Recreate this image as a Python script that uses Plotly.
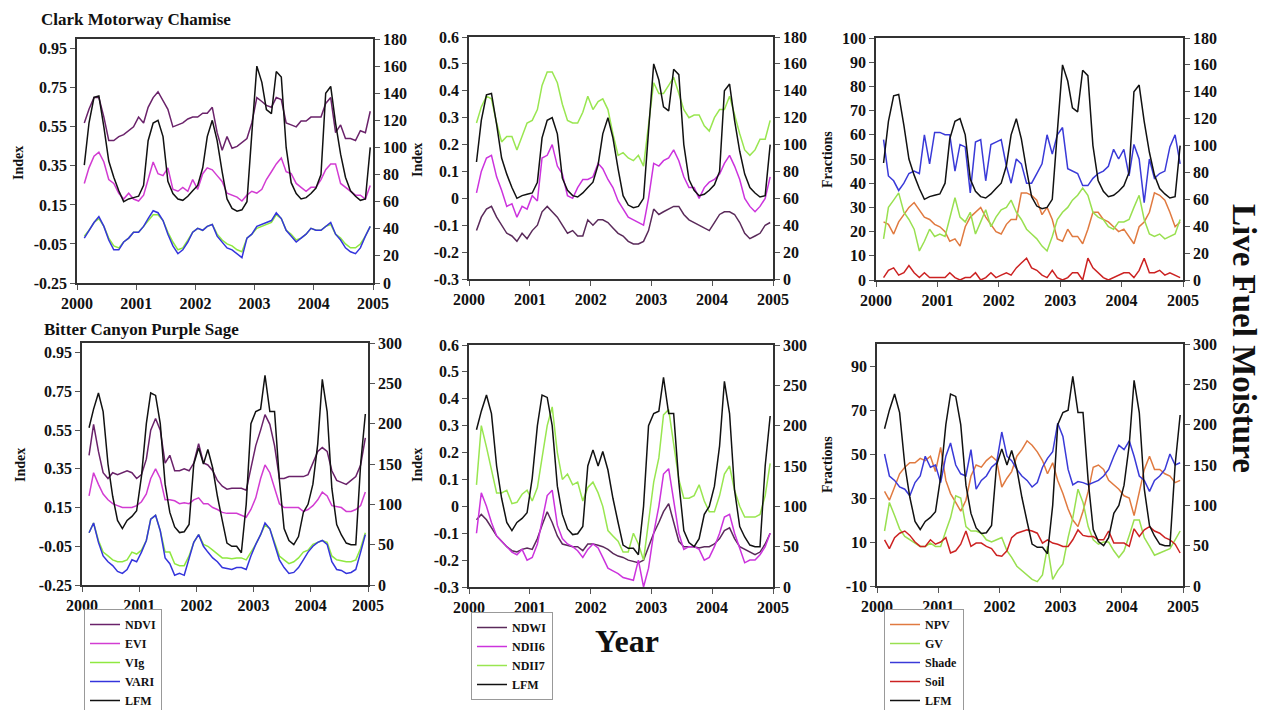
import plotly.graph_objects as go

# Monthly samples, Feb 2000 .. Dec 2004
DATES = [f"{y}-{m:02d}-15" for y in range(2000, 2005) for m in range(1, 13)][1:]

YEAR_TICKS = ["2000", "2001", "2002", "2003", "2004", "2005"]

# ---------------- Clark Motorway Chamise (top row) ----------------
LFM_TOP = [87, 118, 137, 138, 115, 90, 78, 68, 60, 62, 63,
           64, 72, 105, 118, 120, 108, 75, 66, 62, 61, 64, 68,
           72, 85, 108, 120, 105, 82, 62, 55, 53, 54, 60, 110,
           160, 148, 128, 125, 156, 152, 100, 74, 66, 62, 63, 66,
           70, 80, 140, 145, 118, 95, 78, 68, 64, 61, 62, 100]
NDVI_TOP = [.57, .64, .70, .70, .60, .48, .48, .50, .51, .53, .55,
            .60, .57, .65, .70, .73, .68, .64, .55, .56, .57, .59, .60,
            .60, .62, .62, .65, .52, .43, .50, .44, .45, .47, .49, .57,
            .70, .68, .66, .65, .70, .69, .57, .56, .55, .58, .58, .60,
            .60, .60, .67, .70, .52, .56, .49, .49, .48, .53, .52, .63]
EVI_TOP = [.26, .34, .40, .42, .37, .28, .26, .21, .18, .21, .18,
           .17, .20, .28, .37, .31, .30, .34, .23, .22, .24, .22, .28,
           .23, .31, .34, .33, .30, .27, .21, .20, .19, .17, .20, .22,
           .21, .23, .28, .32, .36, .39, .32, .31, .26, .24, .22, .24,
           .24, .28, .33, .36, .36, .26, .24, .22, .20, .20, .18, .25]
VIG_TOP = [-.01, .02, .06, .08, .04, -.02, -.06, -.07, -.04, -.02, .01,
           .01, .04, .07, .10, .10, .07, .01, -.04, -.08, -.07, -.03, .01,
           .03, .02, .04, .05, .00, -.03, -.05, -.06, -.08, -.09, -.02, .00,
           .03, .04, .05, .06, .10, .08, .02, .00, -.03, -.02, .00, .03,
           .02, .02, .04, .05, .00, -.02, -.05, -.07, -.07, -.05, -.01, .04]
VARI_TOP = [-.02, .02, .06, .09, .04, -.03, -.08, -.08, -.04, -.02, .01,
            .01, .04, .08, .12, .11, .07, .00, -.06, -.10, -.08, -.04, .01,
            .03, .02, .04, .05, -.01, -.04, -.07, -.08, -.10, -.12, -.02, .00,
            .04, .05, .06, .07, .11, .08, .02, -.01, -.04, -.02, .00, .03,
            .02, .02, .04, .06, .00, -.03, -.07, -.09, -.10, -.07, -.01, .04]
NDWI_TOP = [-.12, -.07, -.04, -.03, -.07, -.10, -.13, -.14, -.16, -.13, -.15,
            -.12, -.10, -.05, -.03, -.05, -.07, -.10, -.13, -.12, -.14, -.14, -.08,
            -.10, -.08, -.08, -.09, -.11, -.13, -.14, -.16, -.17, -.17, -.16, -.12,
            -.04, -.06, -.05, -.04, -.03, -.03, -.06, -.08, -.09, -.10, -.11, -.12,
            -.09, -.06, -.05, -.05, -.06, -.09, -.13, -.15, -.14, -.13, -.10, -.09]
NDII6_TOP = [.02, .10, .15, .16, .08, .03, -.03, -.02, -.07, -.03, -.04,
             .01, -.01, .15, .16, .20, .12, .09, .01, .00, .04, .07, .07,
             .08, .13, .11, .07, .04, -.01, -.04, -.07, -.08, -.09, -.10, .00,
             .13, .12, .14, .15, .18, .14, .08, .04, .04, .00, .04, .06,
             .07, .09, .13, .16, .12, .07, .00, -.03, -.05, -.03, .00, .08]
NDII7_TOP = [.28, .34, .38, .37, .28, .21, .23, .23, .18, .23, .28,
             .29, .33, .42, .47, .47, .43, .35, .29, .28, .28, .32, .38,
             .33, .36, .37, .33, .24, .16, .17, .15, .14, .16, .12, .28,
             .43, .39, .39, .42, .45, .39, .33, .30, .31, .31, .27, .25,
             .30, .33, .33, .38, .31, .24, .18, .16, .18, .22, .22, .29]
NPV_TOP = [24, 23, 19, 24, 27, 30, 32, 29, 26, 25, 23,
           22, 20, 16, 17, 14, 22, 26, 28, 30, 26, 23, 20,
           19, 23, 25, 25, 36, 36, 35, 33, 27, 30, 25, 17,
           16, 21, 18, 18, 15, 21, 28, 28, 25, 24, 22, 20,
           21, 18, 15, 22, 24, 28, 36, 35, 33, 28, 22, 24]
GV_TOP = [17, 30, 33, 36, 28, 25, 21, 12, 16, 21, 18,
          19, 18, 26, 34, 26, 24, 28, 19, 24, 29, 22, 26,
          29, 30, 33, 28, 25, 21, 19, 17, 14, 12, 18, 25,
          28, 30, 33, 35, 38, 35, 28, 26, 25, 22, 21, 24,
          24, 25, 30, 35, 25, 19, 18, 19, 17, 18, 19, 25]
SHADE_TOP = [58, 43, 41, 37, 40, 44, 45, 44, 60, 48, 61,
             61, 60, 60, 45, 56, 55, 36, 57, 58, 41, 56, 57,
             58, 47, 40, 50, 48, 40, 40, 44, 48, 60, 52, 60,
             63, 46, 45, 44, 39, 39, 42, 44, 45, 47, 54, 50,
             54, 43, 56, 50, 32, 50, 42, 44, 45, 55, 60, 48]
SOIL_TOP = [1, 4, 5, 2, 3, 6, 3, 1, 3, 1, 1,
            1, 1, 3, 1, 0, 1, 1, 3, 0, 1, 3, 1,
            2, 3, 2, 5, 7, 9, 5, 4, 2, 1, 4, 1,
            0, 1, 3, 3, 0, 9, 5, 3, 1, 0, 1, 2,
            3, 3, 1, 4, 9, 3, 3, 4, 2, 3, 2, 1]

# ---------------- Bitter Canyon Purple Sage (bottom row) ----------------
LFM_BOT = [195, 218, 238, 215, 150, 110, 80, 70, 80, 85, 92,
           135, 200, 238, 235, 200, 125, 90, 72, 65, 66, 75, 150,
           170, 150, 168, 145, 110, 80, 52, 48, 48, 40, 100, 200,
           215, 218, 260, 215, 215, 130, 70, 55, 50, 60, 90, 100,
           125, 175, 255, 215, 120, 75, 62, 52, 50, 50, 150, 212]
NDVI_BOT = [.42, .58, .44, .33, .30, .33, .32, .33, .34, .33, .30,
            .32, .40, .55, .61, .55, .38, .42, .34, .34, .35, .34, .38,
            .48, .38, .37, .34, .29, .26, .245, .25, .25, .25, .24, .36,
            .47, .55, .63, .58, .47, .30, .30, .31, .31, .31, .31, .32,
            .38, .44, .46, .44, .34, .29, .28, .27, .29, .31, .37, .51]
EVI_BOT = [.21, .33, .27, .22, .19, .17, .16, .15, .15, .15, .16,
           .18, .22, .30, .35, .30, .19, .19, .185, .17, .175, .17, .19,
           .20, .17, .17, .15, .14, .125, .12, .12, .12, .11, .10, .14,
           .20, .30, .37, .33, .25, .17, .15, .15, .15, .15, .13, .14,
           .16, .19, .23, .21, .16, .155, .15, .13, .13, .14, .16, .23]
VIG_BOT = [.02, .07, -.02, -.08, -.10, -.12, -.13, -.13, -.12, -.08, -.09,
           -.07, -.02, .09, .11, .03, -.08, -.08, -.14, -.15, -.15, -.10, -.03,
           .01, -.04, -.05, -.07, -.09, -.11, -.11, -.115, -.11, -.11, -.12, -.08,
           -.04, .01, .06, .04, -.03, -.10, -.12, -.14, -.13, -.11, -.08, -.07,
           -.04, -.03, -.02, -.03, -.10, -.12, -.125, -.13, -.13, -.12, -.06, .02]
VARI_BOT = [.02, .07, -.03, -.10, -.13, -.15, -.18, -.19, -.17, -.12, -.13,
            -.08, -.02, .09, .11, .03, -.11, -.14, -.20, -.19, -.20, -.12, -.03,
            .01, -.05, -.08, -.11, -.13, -.16, -.165, -.17, -.16, -.16, -.17, -.10,
            -.04, .01, .07, .04, -.04, -.12, -.16, -.19, -.185, -.16, -.12, -.08,
            -.05, -.03, -.02, -.04, -.13, -.17, -.175, -.19, -.185, -.17, -.08, .01]
NDWI_BOT = [-.05, -.03, -.05, -.08, -.11, -.13, -.15, -.165, -.17, -.16, -.155,
            -.16, -.12, -.07, -.02, -.06, -.11, -.14, -.145, -.15, -.15, -.165, -.14,
            -.14, -.145, -.15, -.16, -.175, -.185, -.19, -.20, -.205, -.21, -.20, -.15,
            -.10, -.06, -.02, .01, -.06, -.13, -.15, -.15, -.15, -.155, -.15, -.15,
            -.14, -.12, -.09, -.08, -.12, -.15, -.16, -.17, -.18, -.17, -.14, -.10]
NDII6_BOT = [-.10, .05, .00, -.06, -.11, -.13, -.15, -.17, -.18, -.16, -.20,
             -.19, -.14, -.06, .04, .06, -.07, -.12, -.14, -.15, -.165, -.19, -.16,
             -.14, -.155, -.19, -.23, -.24, -.25, -.265, -.27, -.275, -.20, -.30, -.23,
             -.10, .00, .12, .14, .02, -.10, -.16, -.15, -.15, -.16, -.20, -.19,
             -.15, -.10, -.04, -.03, -.10, -.16, -.21, -.20, -.20, -.18, -.15, -.10]
NDII7_BOT = [.08, .30, .22, .14, .05, .05, .06, .01, .015, .045, .06,
             .02, .07, .18, .30, .37, .20, .10, .12, .08, .09, .02, .07,
             .09, .05, .00, -.09, -.11, -.13, -.17, -.17, -.10, -.14, -.20, -.05,
             .09, .18, .34, .36, .24, .10, .03, .03, .04, .08, .02, -.02,
             -.02, .04, .12, .15, .06, .00, -.04, -.04, -.04, -.03, .04, .16]
NPV_BOT = [33, 29, 35, 41, 44, 46, 46, 48, 47, 49, 42,
           53, 38, 32, 28, 24, 29, 40, 45, 44, 47, 49, 47,
           35, 39, 42, 49, 52, 56, 54, 51, 47, 41, 46, 38,
           32, 25, 20, 17, 24, 33, 44, 45, 43, 38, 36, 34,
           31, 30, 22, 33, 43, 49, 43, 43, 41, 40, 37, 38]
GV_BOT = [15, 28, 22, 16, 12.5, 11, 9.5, 8, 8, 9.5, 8,
          8, 15, 21, 31, 30, 17, 15, 15, 14, 11, 10, 11,
          12, 6, 3, -1, -3, -5, -7, -8, -5, 8, -7, -3,
          0, 12, 21, 34, 28, 17, 11, 9, 10, 10, 6, 3,
          6, 13, 20, 20, 12, 8, 4, 5, 6, 7, 11, 15]
SHADE_BOT = [50, 40, 38, 35, 34, 31, 37, 40, 49, 44, 45,
             37, 49, 55, 45, 41, 40, 52, 34, 38, 40, 44, 46,
             60, 49, 47, 43, 40, 38, 35, 37, 44, 48, 51, 64,
             58, 43, 36, 37.5, 37, 36, 37, 38, 40, 43, 49, 54,
             52, 56, 49, 40, 38, 33, 38, 40, 43, 50, 45, 46]
SOIL_BOT = [11, 7, 12, 14, 15, 13, 10, 8, 8, 11, 9,
            10, 12, 5, 6, 9, 15, 8, 9.5, 9.5, 8, 7, 4,
            3.5, 6, 12, 14, 14.8, 15.5, 15, 14, 9.5, 11, 9.5, 9,
            8, 8, 11, 15.5, 13, 12.5, 12.5, 11, 11, 15, 9.5, 9.5,
            9.5, 8, 16, 12.5, 15.5, 17, 15, 14, 12, 11, 9, 5]

# ---------------- styling ----------------
FONT = "Liberation Serif"
C_NDVI, C_EVI, C_VIG, C_VARI, C_LFM = "#6a226a", "#d23cd2", "#8fe840", "#3434dc", "#111111"
C_NDWI, C_NDII6, C_NDII7 = "#5a2a5a", "#cc33dd", "#99e650"
C_NPV, C_GV, C_SHADE, C_SOIL = "#e07a40", "#99e050", "#3a3ad8", "#cc2222"

IDX_TICKS = [-0.25, -0.05, 0.15, 0.35, 0.55, 0.75, 0.95]
IDX_TEXT = ["-0.25", "-0.05", "0.15", "0.35", "0.55", "0.75", "0.95"]
WI_TICKS = [-0.3, -0.2, -0.1, 0, 0.1, 0.2, 0.3, 0.4, 0.5, 0.6]
WI_TEXT = ["-0.3", "-0.2", "-0.1", "0", "0.1", "0.2", "0.3", "0.4", "0.5", "0.6"]

# panel layout: (x px, y px, left range, left ticks, left text, right range, right dtick)
PANELS = [
    ([77, 373], [39, 283], [-0.25, 1.0], IDX_TICKS, IDX_TEXT, [0, 180], 20),
    ([469, 773], [37, 279], [-0.3, 0.6], WI_TICKS, WI_TEXT, [0, 180], 20),
    ([876, 1183], [38, 280], [0, 100], list(range(0, 101, 10)), [str(v) for v in range(0, 101, 10)], [0, 180], 20),
    ([82, 368], [343, 585], [-0.25, 1.0], IDX_TICKS, IDX_TEXT, [0, 300], 50),
    ([469, 773], [345, 587], [-0.3, 0.6], WI_TICKS, WI_TEXT, [0, 300], 50),
    ([877, 1183], [344, 586], [-10, 100], list(range(-10, 91, 20)), [str(v) for v in range(-10, 91, 20)], [0, 300], 50),
]
W, H = 1263, 710

SERIES = [
    [("NDVI", NDVI_TOP, C_NDVI), ("EVI", EVI_TOP, C_EVI), ("VIg", VIG_TOP, C_VIG), ("VARI", VARI_TOP, C_VARI)],
    [("NDWI", NDWI_TOP, C_NDWI), ("NDII6", NDII6_TOP, C_NDII6), ("NDII7", NDII7_TOP, C_NDII7)],
    [("NPV", NPV_TOP, C_NPV), ("GV", GV_TOP, C_GV), ("Shade", SHADE_TOP, C_SHADE), ("Soil", SOIL_TOP, C_SOIL)],
    [("NDVI", NDVI_BOT, C_NDVI), ("EVI", EVI_BOT, C_EVI), ("VIg", VIG_BOT, C_VIG), ("VARI", VARI_BOT, C_VARI)],
    [("NDWI", NDWI_BOT, C_NDWI), ("NDII6", NDII6_BOT, C_NDII6), ("NDII7", NDII7_BOT, C_NDII7)],
    [("NPV", NPV_BOT, C_NPV), ("GV", GV_BOT, C_GV), ("Shade", SHADE_BOT, C_SHADE), ("Soil", SOIL_BOT, C_SOIL)],
]
LFMS = [LFM_TOP, LFM_TOP, LFM_TOP, LFM_BOT, LFM_BOT, LFM_BOT]
LEGEND_OF = {3: "legend", 4: "legend2", 5: "legend3"}

fig = go.Figure()
layout = dict(
    width=W, height=H, margin=dict(l=0, r=0, t=0, b=0, autoexpand=False),
    paper_bgcolor="white", plot_bgcolor="white",
    font=dict(family=FONT, size=14, color="#111", weight="bold"),
)

for k, (xd, yd, lr, lt, ltx, rr, rdt) in enumerate(PANELS):
    n = k + 1
    xa = "x" if n == 1 else f"x{n}"
    ya = f"y{2 * n - 1}" if n > 1 else "y"
    yb = f"y{2 * n}"
    leg = LEGEND_OF.get(k)
    for name, vals, col in SERIES[k]:
        fig.add_trace(go.Scatter(x=DATES, y=vals, name=name, mode="lines",
                                 line=dict(color=col, width=1.5), xaxis=xa, yaxis=ya,
                                 showlegend=leg is not None, legend=leg or "legend"))
    fig.add_trace(go.Scatter(x=DATES, y=LFMS[k], name="LFM", mode="lines",
                             line=dict(color=C_LFM, width=1.5), xaxis=xa, yaxis=yb,
                             showlegend=leg is not None, legend=leg or "legend"))

    axline = dict(showline=True, linecolor="#333", linewidth=1.5, showgrid=False, zeroline=False,
                  ticks="outside", ticklen=5, tickcolor="#555", tickwidth=1, automargin=False,
                  tickfont=dict(family=FONT, size=16, color="#111", weight="bold"))
    xkey = "xaxis" if n == 1 else f"xaxis{n}"
    ykey = "yaxis" if n == 1 else f"yaxis{2 * n - 1}"
    y2key = f"yaxis{2 * n}"
    layout[xkey] = dict(axline, domain=[xd[0] / W, xd[1] / W], anchor=ya, mirror=True,
                        type="date", range=["2000-01-01", "2005-01-01"],
                        tickvals=[f"{t}-01-01" for t in YEAR_TICKS], ticktext=YEAR_TICKS)
    layout[ykey] = dict(axline, domain=[1 - yd[1] / H, 1 - yd[0] / H], anchor=xa, mirror=True,
                        range=lr, tickvals=lt, ticktext=ltx)
    layout[y2key] = dict(axline, overlaying=ya, side="right", anchor=xa,
                         range=rr, dtick=rdt, tick0=0)

legend_style = dict(bgcolor="white", bordercolor="#999", borderwidth=1, tracegroupgap=0,
                    font=dict(family=FONT, size=12, color="#111", weight="bold"),
                    xanchor="left", yanchor="top", itemwidth=30)
layout["legend"] = dict(legend_style, x=84 / W, y=1 - 609 / H)
layout["legend2"] = dict(legend_style, x=471 / W, y=1 - 612 / H)
layout["legend3"] = dict(legend_style, x=884 / W, y=1 - 609 / H)


def ann(text, px, py, size, angle=0, xanchor="center"):
    return dict(text=text, x=px / W, y=1 - py / H, xref="paper", yref="paper",
                showarrow=False, textangle=angle, xanchor=xanchor, yanchor="middle",
                font=dict(family=FONT, size=size, color="#111", weight="bold"))


layout["annotations"] = [
    ann("Clark Motorway Chamise", 39, 20, 17, xanchor="left"),
    ann("Bitter Canyon Purple Sage", 42, 329, 17, xanchor="left"),
    ann("Index", 18, 163, 14, -90),
    ann("Index", 417, 160, 14, -90),
    ann("Fractions", 827, 160, 14, -90),
    ann("Index", 20, 465, 14, -90),
    ann("Index", 417, 465, 14, -90),
    ann("Fractions", 827, 465, 14, -90),
    ann("Year", 627, 641, 32),
    ann("Live Fuel Moisture", 1244, 338, 33, 90),
]

fig.update_layout(**layout)
fig.write_html("out.html", config={"displayModeBar": False},
               post_script="document.body.style.margin='0px';")
